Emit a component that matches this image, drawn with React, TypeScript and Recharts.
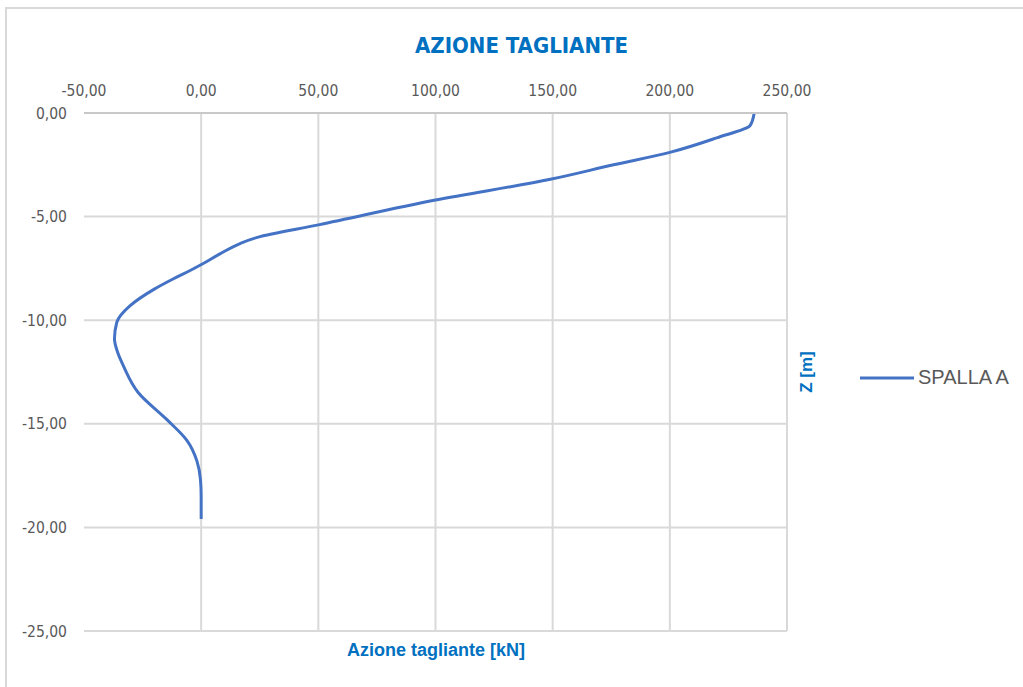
import { CartesianGrid, Line, LineChart, ReferenceLine, XAxis, YAxis } from 'recharts';

// profondità [m] e azione tagliante [kN]
const depth = [0, -0.6, -1.2, -1.9, -2.5, -3.2, -4.2, -5.4, -6.0, -6.3, -6.8, -7.3, -7.6, -8.0, -8.5, -9.3, -10.1, -10.9, -11.6, -12.2, -13.5, -14.8, -15.8, -16.8, -17.7, -18.5, -19.6];
const shear = [236, 234.3, 220, 200, 176, 149, 100, 50, 24, 16.6, 8, 0.3, -4.7, -11.8, -20, -30.3, -36, -37, -35.5, -33.2, -26.8, -14.6, -6.1, -1.8, -0.3, 0, 0];

const xTicks = [-50, 0, 50, 100, 150, 200, 250];
const yTicks = [0, -5, -10, -15, -20, -25];
const seriesName = 'SPALLA A';

const data = depth.map((z, i) => ({ z, v: shear[i] }));

const fmt = (t: number) => t.toFixed(2).replace('.', ',');
const BLUE = '#0070C0';
const narrow = '"Liberation Sans Narrow", "DejaVu Sans Condensed", "Liberation Sans", sans-serif';

export default function App() {
    return (
        <div style={{ position: 'absolute', left: 0, top: 0, width: 1023, height: 687, background: '#fff', overflow: 'hidden' }}>
            <div style={{ position: 'absolute', left: 5, top: 7, width: 1030, height: 700, borderTop: '2px solid #d9d9d9', borderLeft: '2px solid #d9d9d9' }} />
            <div style={{ position: 'absolute', left: 0, width: 1043, top: 31, textAlign: 'center', fontFamily: narrow, fontWeight: 'bold', fontSize: 22, color: BLUE, lineHeight: '30px' }}>
                AZIONE TAGLIANTE
            </div>
            <div style={{ position: 'absolute', left: 336, width: 200, top: 640, textAlign: 'center', fontFamily: '"Liberation Sans", sans-serif', fontWeight: 'bold', fontSize: 18, color: BLUE }}>
                Azione tagliante [kN]
            </div>
            <div style={{ position: 'absolute', left: 757, top: 362, width: 100, textAlign: 'center', transform: 'rotate(-90deg)', fontFamily: '"Liberation Sans", sans-serif', fontWeight: 'bold', fontSize: 17, color: BLUE, lineHeight: '20px' }}>
                Z [m]
            </div>
            <div style={{ position: 'absolute', left: 860, top: 366, display: 'flex', alignItems: 'center' }}>
                <svg width={56} height={6}>
                    <line x1={0} y1={3} x2={54} y2={3} stroke="#4472C4" strokeWidth={3} />
                </svg>
                <span style={{ fontFamily: '"Liberation Sans", sans-serif', fontSize: 20, color: '#595959', marginLeft: 2 }}>{seriesName}</span>
            </div>
            <div style={{ position: 'absolute', left: 0, top: 0 }}>
                <LineChart width={1023} height={687} data={data} layout="vertical" margin={{ top: 83, right: 236, bottom: 56, left: 24 }}>
                    <CartesianGrid vertical={false} stroke="#d9d9d9" strokeWidth={2} />
                    {xTicks.slice(1).map((t) => (
                        <ReferenceLine key={t} x={t} stroke="#d9d9d9" strokeWidth={2} />
                    ))}
                    <XAxis
                        type="number"
                        orientation="top"
                        domain={[-50, 250]}
                        ticks={xTicks}
                        tickFormatter={fmt}
                        height={30}
                        axisLine={{ stroke: '#c8c8c8', strokeWidth: 2 }}
                        tickLine={false}
                        tickSize={0}
                        tickMargin={17}
                        tick={{ fill: '#595959', fontSize: 15.5, fontFamily: narrow }}
                    />
                    <YAxis
                        type="number"
                        dataKey="z"
                        domain={[-25, 0]}
                        ticks={yTicks}
                        reversed
                        tickFormatter={fmt}
                        width={60}
                        axisLine={false}
                        tickLine={false}
                        tickSize={0}
                        tickMargin={17}
                        tick={{ fill: '#595959', fontSize: 15.5, fontFamily: narrow }}
                    />
                    <Line dataKey="v" name={seriesName} type="monotone" stroke="#4472C4" strokeWidth={3} dot={false} isAnimationActive={false} />
                </LineChart>
            </div>
        </div>
    );
}
